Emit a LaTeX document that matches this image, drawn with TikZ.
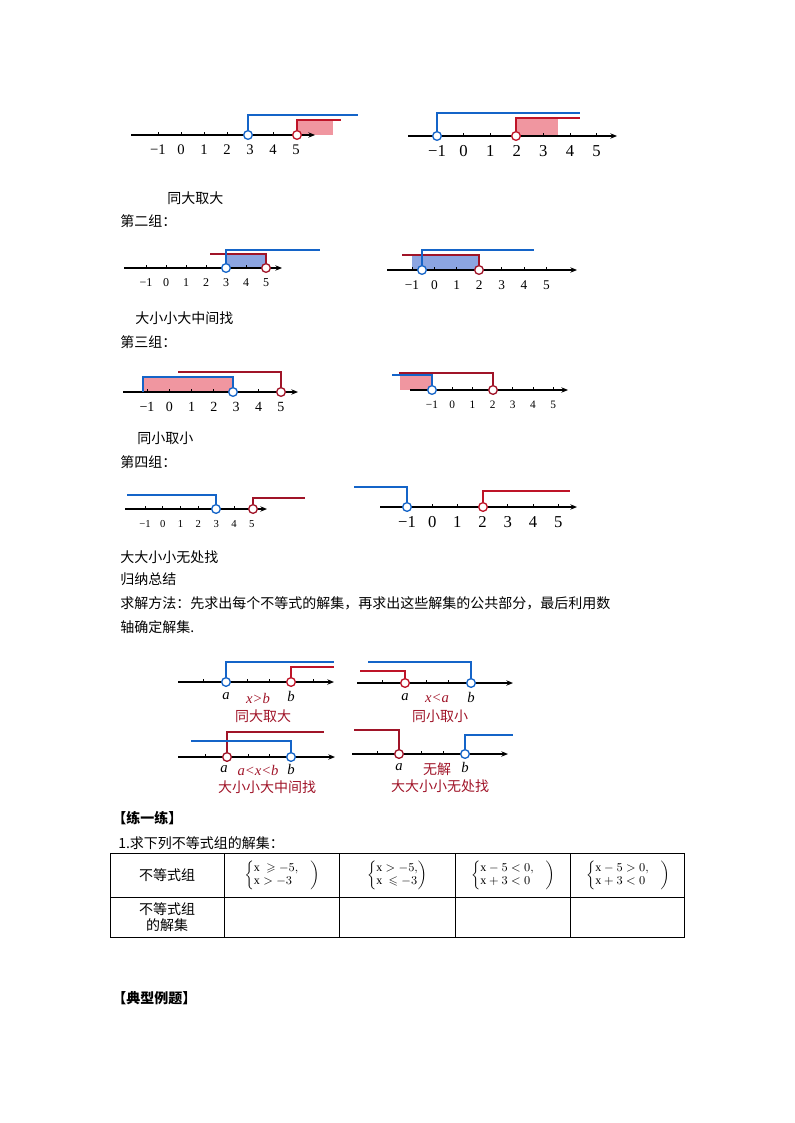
\documentclass[tikz,border=0pt]{standalone}
\usepackage{amsmath,amssymb}
\usepackage{fontspec}
\setmainfont{Liberation Serif}
\newfontfamily\cjk{Noto Sans CJK SC}
\usetikzlibrary{arrows.meta}
\definecolor{lineblue}{RGB}{20,100,200}
\definecolor{linered}{RGB}{190,20,40}
\definecolor{darkred}{RGB}{160,20,40}
\definecolor{pinkfill}{RGB}{240,150,160}
\definecolor{bluefill}{RGB}{140,165,225}
\tikzset{
  axisline/.style={line width=0.9pt,-{Stealth[length=5pt,width=4pt]}},
  bluebr/.style={lineblue,line width=1.1pt},
  redbr/.style={linered,line width=1.1pt},
  dredbr/.style={darkred,line width=1.1pt},
  opendot/.style={circle,draw=#1,fill=white,line width=1pt,inner sep=0pt,minimum size=6.5pt},
  cn/.style={font=\cjk\fontsize{10.5}{12}\selectfont,anchor=west,inner sep=0pt},
  lbl/.style={font=\cjk\fontsize{10.5}{12}\selectfont,darkred,inner sep=0pt},
  let/.style={font=\itshape\fontsize{11}{12}\selectfont,inner sep=0pt},
}
% number line: y, left x, right x, x of -1, step, font
\newcommand\numaxis[6]{%
  \draw[axisline] (#2,#1) -- (#3,#1);
  \foreach \k in {-1,...,5} {
    \draw[line width=0.7pt] ({#4+(\k+1)*#5},#1) -- ({#4+(\k+1)*#5},{#1-3});
    \node[font=#6,inner sep=0pt] at ({#4+(\k+1)*#5},{#1+15}) {\ifnum\k<0 −1\else\k\fi};
  }}
% letter line: y, left x, right x, first tick, step, count
\newcommand\letaxis[6]{%
  \draw[axisline] (#2,#1) -- (#3,#1);
  \foreach \k in {0,...,#6} \draw[line width=0.7pt] ({#4+\k*#5},#1) -- ({#4+\k*#5},{#1-3});}
\begin{document}
\begin{tikzpicture}[x=0.75pt,y=-0.75pt]
  \useasboundingbox (0,0) rectangle (794,1123);

  % first group
  \fill[pinkfill] (297,120) rectangle (333,135);
  \numaxis{135}{131}{315}{158}{23}{\fontsize{11}{12}\selectfont}
  \draw[bluebr] (248,135) -- (248,115) -- (358,115);
  \draw[redbr] (297,135) -- (297,120) -- (341,120);
  \node[opendot=lineblue] (c1a) at (248,135) {};
  \node[opendot=linered] (c1b) at (297,135) {};

  \fill[pinkfill] (516,118) rectangle (558,136);
  \numaxis{136}{408}{617}{437}{26.6}{\fontsize{12.5}{14}\selectfont}
  \draw[bluebr] (437,136) -- (437,113) -- (580,113);
  \draw[redbr] (516,136) -- (516,118) -- (580,118);
  \node[opendot=lineblue] (c2a) at (437,136) {};
  \node[opendot=linered] (c2b) at (516,136) {};

  \node[cn] (t1) at (167,198) {同大取大};
  \node[cn] (g2) at (120,221) {第二组：};

  % second group
  \fill[bluefill] (226,254) rectangle (266,268);
  \numaxis{268}{124}{282}{146}{20}{\fontsize{9}{10}\selectfont}
  \draw[dredbr] (266,268) -- (266,254) -- (210,254);
  \draw[bluebr] (226,268) -- (226,250) -- (320,250);
  \node[opendot=lineblue] (c3a) at (226,268) {};
  \node[opendot=darkred] (c3b) at (266,268) {};

  \fill[bluefill] (412,255) rectangle (479,270);
  \numaxis{270}{387}{577}{412}{22.4}{\fontsize{10}{11}\selectfont}
  \draw[dredbr] (479,270) -- (479,255) -- (402,255);
  \draw[bluebr] (422,270) -- (422,250) -- (534,250);
  \node[opendot=lineblue] (c4a) at (422,270) {};
  \node[opendot=darkred] (c4b) at (479,270) {};

  \node[cn] (t2) at (135,318) {大小小大中间找};
  \node[cn] (g3) at (120,342) {第三组：};

  % third group
  \fill[pinkfill] (143,377) rectangle (233,392);
  \numaxis{392}{123}{298}{147}{22.3}{\fontsize{10.5}{12}\selectfont}
  \draw[dredbr] (281,392) -- (281,372) -- (178,372);
  \draw[bluebr] (233,392) -- (233,377) -- (143,377) -- (143,392);
  \node[opendot=lineblue] (c5a) at (233,392) {};
  \node[opendot=darkred] (c5b) at (281,392) {};

  \fill[pinkfill] (400,375) rectangle (432,390);
  \numaxis{390}{410}{568}{432}{20.2}{\fontsize{8.5}{10}\selectfont}
  \draw[dredbr] (493,390) -- (493,373) -- (399,373);
  \draw[bluebr] (432,390) -- (432,375) -- (392,375);
  \node[opendot=lineblue] (c6a) at (432,390) {};
  \node[opendot=darkred] (c6b) at (493,390) {};

  \node[cn] (t3) at (137,438) {同小取小};
  \node[cn] (g4) at (120,462) {第四组：};

  % fourth group
  \numaxis{509}{125}{267}{145}{17.8}{\fontsize{8}{9}\selectfont}
  \draw[bluebr] (216,509) -- (216,495) -- (127,495);
  \draw[dredbr] (253,509) -- (253,498) -- (305,498);
  \node[opendot=lineblue] (c7a) at (216,509) {};
  \node[opendot=darkred] (c7b) at (253,509) {};

  \numaxis{507}{380}{577}{407}{25.2}{\fontsize{12.5}{14}\selectfont}
  \draw[bluebr] (407,507) -- (407,487) -- (354,487);
  \draw[redbr] (483,507) -- (483,491) -- (570,491);
  \node[opendot=lineblue] (c8a) at (407,507) {};
  \node[opendot=linered] (c8b) at (483,507) {};

  \node[cn] (t4) at (120,557) {大大小小无处找};
  \node[cn] (sum) at (120,579) {归纳总结};
  \node[cn] (m1) at (120,603) {求解方法：先求出每个不等式的解集，再求出这些解集的公共部分，最后利用数};
  \node[cn] (m2) at (120,627) {轴确定解集.};

  % summary
  \letaxis{682}{178}{334}{203}{22}{5}
  \draw[bluebr] (226,682) -- (226,662) -- (334,662);
  \draw[redbr] (291,682) -- (291,667) -- (334,667);
  \node[opendot=lineblue] (sa) at (226,682) {};
  \node[opendot=linered] (sb) at (291,682) {};
  \node[let] at (226,696) {a};
  \node[let] at (291,696) {b};
  \node[let,darkred] at (258,698) {x>b};
  \node[lbl] (s1) at (263,716) {同大取大};

  \letaxis{683}{357}{513}{382}{22.2}{4}
  \draw[redbr] (405,683) -- (405,671) -- (360,671);
  \draw[bluebr] (471,683) -- (471,662) -- (368,662);
  \node[opendot=linered] (ta) at (405,683) {};
  \node[opendot=lineblue] (tb) at (471,683) {};
  \node[let] at (405,697) {a};
  \node[let] at (471,697) {b};
  \node[let,darkred] at (437,698) {x<a};
  \node[lbl] (s2) at (440,716) {同小取小};

  \letaxis{757}{178}{335}{205}{21.6}{4}
  \draw[dredbr] (227,757) -- (227,732) -- (324,732);
  \draw[bluebr] (291,757) -- (291,741) -- (191,741);
  \node[opendot=darkred] (ua) at (227,757) {};
  \node[opendot=lineblue] (ub) at (291,757) {};
  \node[let] at (224,769) {a};
  \node[let] at (291,769) {b};
  \node[let,darkred] at (258,770) {a<x<b};
  \node[lbl] (s3) at (267,787) {大小小大中间找};

  \letaxis{754}{352}{508}{377}{22}{4}
  \draw[dredbr] (399,754) -- (399,730) -- (354,730);
  \draw[bluebr] (465,754) -- (465,735) -- (513,735);
  \node[opendot=darkred] (va) at (399,754) {};
  \node[opendot=lineblue] (vb) at (465,754) {};
  \node[let] at (399,767) {a};
  \node[let] at (465,767) {b};
  \node[lbl] (s4a) at (437,769) {无解};
  \node[lbl] (s4) at (440,786) {大大小小无处找};

  % exercise
  \node[cn,font=\cjk\bfseries\fontsize{10.5}{12}\selectfont] (ex) at (112,818) {【练一练】};
  \node[cn] (q1) at (118,843) {1.求下列不等式组的解集：};
  \draw[line width=0.7pt] (110,853) rectangle (684,937);
  \draw[line width=0.7pt] (110,897) -- (684,897);
  \foreach \c in {224,339,455,570} \draw[line width=0.7pt] (\c,853) -- (\c,937);
  \node[cn,anchor=center] (h1) at (167,875) {不等式组};
  \node[cn,anchor=center,align=center] (h2) at (167,917) {不等式组\\的解集};
  \node[font=\fontsize{9}{10}\selectfont] (e1) at (282,875) {$\left\{\begin{array}{@{}l@{}}\mathrm{x}\ \geqslant -5,\\ \mathrm{x}>-3\end{array}\quad\right)$};
  \node[font=\fontsize{9}{10}\selectfont] (e2) at (397,875) {$\left\{\begin{array}{@{}l@{}}\mathrm{x}>-5,\\ \mathrm{x}\ \leqslant -3\end{array}\right)$};
  \node[font=\fontsize{9}{10}\selectfont] (e3) at (513,875) {$\left\{\begin{array}{@{}l@{}}\mathrm{x}-5<0,\\ \mathrm{x}+3<0\end{array}\quad\right)$};
  \node[font=\fontsize{9}{10}\selectfont] (e4) at (628,875) {$\left\{\begin{array}{@{}l@{}}\mathrm{x}-5>0,\\ \mathrm{x}+3<0\end{array}\quad\right)$};

  \node[cn,font=\cjk\bfseries\fontsize{10.5}{12}\selectfont] (ty) at (112,998) {【典型例题】};
\end{tikzpicture}
\end{document}
